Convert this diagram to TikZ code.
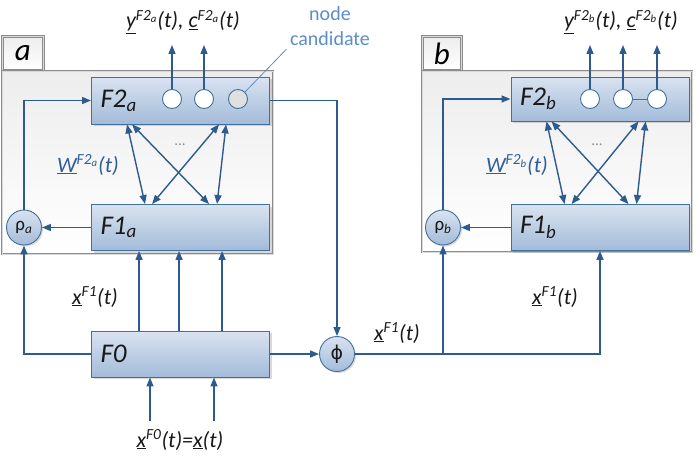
\documentclass[tikz,border=0pt]{standalone}
\usepackage{fontspec}
\setmainfont{Carlito}
\newfontfamily\greekfont{DejaVu Sans}
\usetikzlibrary{arrows.meta,shadows,positioning}

\begin{document}
\begin{tikzpicture}[x=1pt, y=-1pt,
    panel/.style={draw=panelBorder, line width=0.9pt, double=panelInner, double distance=0.8pt, top color=panelTop, bottom color=white},
    layer/.style={draw=boxBorder, line width=0.9pt, top color=boxTop, bottom color=boxBottom, text=black!90,
        text width=160pt, align=left, inner xsep=9pt, minimum height=46pt, font=\fontsize{27}{29}\selectfont\itshape,
        drop shadow={opacity=0.3, shadow xshift=2pt, shadow yshift=-2pt}},
    gate/.style={circle, draw=boxBorder, line width=0.9pt, top color=boxTop, bottom color=boxBottom, text=black!90,
        minimum size=35pt, inner sep=0pt, font=\fontsize{19}{21}\selectfont,
        drop shadow={opacity=0.3, shadow xshift=1.5pt, shadow yshift=-1.5pt}},
    unit/.style={circle, draw=boxBorder, line width=0.9pt, fill=white, minimum size=19pt, inner sep=0pt},
    flow/.style={draw=arrowColour, line width=1.4pt, -{Triangle[length=9pt,width=7pt]}},
    link/.style={draw=arrowColour, line width=1.4pt, {Triangle[length=9pt,width=7pt]}-{Triangle[length=9pt,width=7pt]}},
    lbl/.style={font=\fontsize{22}{24}\selectfont\itshape, text=black!90}]
    \definecolor{boxBorder}{HTML}{41719C}
    \definecolor{boxTop}{HTML}{D9E3F0}
    \definecolor{boxBottom}{HTML}{A3BBD9}
    \definecolor{arrowColour}{HTML}{2D5B8E}
    \definecolor{panelBorder}{HTML}{8C8C8C}
    \definecolor{panelInner}{HTML}{D9D9D9}
    \definecolor{panelTop}{HTML}{EDEDED}
    \definecolor{wColour}{HTML}{2F5E9A}
    \definecolor{noteColour}{HTML}{5B8CCC}

    \useasboundingbox (0,0) rectangle (698,460);

    % Panels with tabs
    \node[panel, minimum width=41pt, minimum height=34pt, anchor=south west, font=\fontsize{31}{33}\selectfont\itshape] (tabA) at (2,71) {a};
    \draw[panel] (2,71) rectangle (273,254);
    \node[panel, minimum width=39pt, minimum height=34pt, anchor=south west, font=\fontsize{31}{33}\selectfont\itshape] (tabB) at (422,71) {b};
    \draw[panel] (422,71) rectangle (692,252);

    % Layers
    \node[layer, minimum height=47pt] (F2a) at (180.5,100.5) {F2\textsubscript{a}};
    \node[layer] (F1a) at (180.5,227.5) {F1\textsubscript{a}};
    \node[layer] (F0) at (180.5,354) {F0};
    \node[layer, minimum height=44pt] (F2b) at (600,99) {F2\textsubscript{b}};
    \node[layer] (F1b) at (600,227.5) {F1\textsubscript{b}};

    % Vigilance and matching
    \node[gate] (rhoA) at (24,227.5) {ρ\textsubscript{\itshape a}};
    \node[gate] (rhoB) at (443,227.5) {ρ\textsubscript{\itshape b}};
    \node[gate] (phi) at (337,354) {\greekfont ϕ};

    % F2 nodes
    \node[unit] (a1) at (172,99) {};
    \node[unit] (a2) at (204,99) {};
    \node[unit, fill=black!12] (a3) at (238,99) {};
    \node[unit] (b1) at (590,99) {};
    \node[unit] (b2) at (623,99) {};
    \node[unit] (b3) at (657,99) {};
    \draw[boxBorder, line width=0.9pt] (b2) -- (b3);

    % Outputs
    \coordinate (outTop) at (0,45);
    \foreach \n in {a1,a2,b1,b2,b3}
        \draw[flow] (\n.north) -- (\n.north |- outTop);
    \node[lbl] (outA) at (183,22) {\underline{y}\textsuperscript{F2\textsubscript{a}}(t), \underline{c}\textsuperscript{F2\textsubscript{a}}(t)};
    \node[lbl] (outB) at (621,22) {\underline{y}\textsuperscript{F2\textsubscript{b}}(t), \underline{c}\textsuperscript{F2\textsubscript{b}}(t)};

    % Node candidate
    \node[text=noteColour, align=center, font=\fontsize{20}{25}\selectfont] (note) at (330,26) {node\\candidate};
    \draw[noteColour, line width=0.8pt] (a3.north east) -- (note.south west);

    % Weights between F1 and F2
    \foreach \p in {a,b} {
        \draw[link] ([xshift=36pt]F2\p.south west) -- ([xshift=54pt]F1\p.north west);
        \draw[link] ([xshift=41pt]F2\p.south west) -- ([xshift=118pt]F1\p.north west);
        \draw[link] ([xshift=128pt]F2\p.south west) -- ([xshift=61pt]F1\p.north west);
        \draw[link] ([xshift=135pt]F2\p.south west) -- ([xshift=126pt]F1\p.north west);
    }
    \node[lbl, text=wColour] (wA) at (88,165) {\underline{W}\textsuperscript{F2\textsubscript{a}}(t)};
    \node[lbl, text=wColour] (wB) at (517,165) {\underline{W}\textsuperscript{F2\textsubscript{b}}(t)};
    \node[text=black!45, font=\fontsize{15}{17}\selectfont] (dotsA) at (180,145) {...};
    \node[text=black!45, font=\fontsize{15}{17}\selectfont] (dotsB) at (597,145) {...};

    % Feedback to F2
    \draw[flow] (F1a.west) -- (rhoA.east);
    \draw[flow] (rhoA.north) |- (F2a.west);
    \draw[flow] (F1b.west) -- (rhoB.east);
    \draw[flow] (rhoB.north) |- (F2b.west);

    % F0 to F1
    \draw[flow] (F0.west) -| (rhoA.south);
    \foreach \s in {48,88,131}
        \draw[flow] ([xshift=\s pt]F0.north west) -- ([xshift=\s pt]F1a.south west);
    \node[lbl] (xA) at (95,297) {\underline{x}\textsuperscript{F1}(t)};

    % Input
    \coordinate (in1) at (150,421);
    \coordinate (in2) at (214,421);
    \draw[flow] (in1) -- (in1 |- F0.south);
    \draw[flow] (in2) -- (in2 |- F0.south);
    \node[lbl] (xIn) at (180,440) {\underline{x}\textsuperscript{F0}(t)=\underline{x}(t)};

    % Matching and passing on to b
    \draw[flow] (F0.east) -- (phi.west);
    \draw[flow] (F2a.east) -| (phi.north);
    \draw[flow] (phi.east) -| (F1b.south);
    \draw[flow] (phi.east -| rhoB.south) -- (rhoB.south);
    \node[lbl] (xMid) at (397,333) {\underline{x}\textsuperscript{F1}(t)};
    \node[lbl] (xB) at (555,297) {\underline{x}\textsuperscript{F1}(t)};

\end{tikzpicture}
\end{document}
